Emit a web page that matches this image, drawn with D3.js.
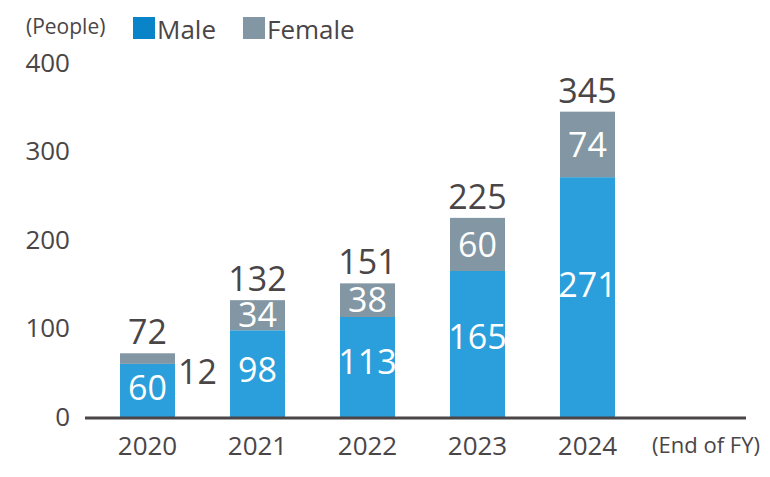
<!DOCTYPE html>
<html>
<head>
<meta charset="utf-8">
<script src="https://cdn.jsdelivr.net/npm/d3@7"></script>
<style>
  body { margin: 0; background: #fff; }
  text { font-family: "Open Sans", sans-serif; fill: #4a4546; }
</style>
</head>
<body>
<div id="plot"></div>
<script>
const years = ["2020", "2021", "2022", "2023", "2024"];
const male = [60, 98, 113, 165, 271];
const female = [12, 34, 38, 60, 74];
const totals = [72, 132, 151, 225, 345];
const yTicks = [0, 100, 200, 300, 400];

const colors = {male: "#2b9fdb", female: "#8296a3", maleKey: "#0a84c8", text: "#4a4546"};

const svg = d3.select("#plot")
  .append("svg")
  .attr("width", 770)
  .attr("height", 477);

const x = d3.scaleBand()
  .domain(years)
  .range([92.5, 642.5])
  .paddingInner(0.5)
  .paddingOuter(0.25);

const y = d3.scaleLinear()
  .domain([0, 400])
  .range([417, 63]);

const data = years.map((yr, i) => ({year: yr, male: male[i], female: female[i], total: totals[i]}));

// y axis labels only
const yAxisG = svg.append("g")
  .attr("transform", "translate(70,0)")
  .call(d3.axisLeft(y).tickValues(yTicks).tickSize(0).tickPadding(0));
yAxisG.select(".domain").remove();
yAxisG.selectAll("text")
  .style("font-size", "26px")
  .style("font-family", "'Open Sans', sans-serif")
  .attr("fill", colors.text);

// bars
const groups = svg.selectAll(".bar-group")
  .data(data)
  .enter()
  .append("g")
  .attr("class", "bar-group")
  .attr("transform", d => `translate(${x(d.year)},0)`);

groups.append("rect")
  .attr("width", x.bandwidth())
  .attr("y", d => y(d.male))
  .attr("height", d => y(0) - y(d.male))
  .attr("fill", colors.male);

groups.append("rect")
  .attr("width", x.bandwidth())
  .attr("y", d => y(d.male + d.female))
  .attr("height", d => y(d.male) - y(d.male + d.female))
  .attr("fill", colors.female);

// male labels
groups.append("text")
  .attr("x", x.bandwidth() / 2)
  .attr("y", d => y(d.male * 0.55))
  .attr("dy", "0.36em")
  .attr("text-anchor", "middle")
  .style("font-size", "34px")
  .style("fill", "#fff")
  .text(d => d.male);

// female labels (2020 sits outside, to the right)
groups.append("text")
  .attr("x", (d, i) => i === 0 ? x.bandwidth() + 3 : x.bandwidth() / 2)
  .attr("y", (d, i) => i === 0 ? y(d.male) + 8 : y(d.male + d.female / 2))
  .attr("dy", "0.36em")
  .attr("text-anchor", (d, i) => i === 0 ? "start" : "middle")
  .style("font-size", "34px")
  .style("fill", (d, i) => i === 0 ? colors.text : "#fff")
  .text(d => d.female);

// totals
groups.append("text")
  .attr("x", x.bandwidth() / 2)
  .attr("y", d => y(d.total) - 9)
  .attr("text-anchor", "middle")
  .style("font-size", "34px")
  .text(d => d.total);

// baseline
svg.append("line")
  .attr("x1", 85)
  .attr("x2", 746)
  .attr("y1", y(0) + 1)
  .attr("y2", y(0) + 1)
  .attr("stroke", colors.text)
  .attr("stroke-width", 3);

// x axis labels
const xAxisG = svg.append("g")
  .attr("transform", `translate(0,${y(0)})`)
  .call(d3.axisBottom(x).tickSize(0).tickPadding(20));
xAxisG.select(".domain").remove();
xAxisG.selectAll("text")
  .style("font-size", "26px")
  .style("font-family", "'Open Sans', sans-serif")
  .attr("fill", colors.text);

svg.append("text")
  .attr("x", 706)
  .attr("y", 453)
  .attr("text-anchor", "middle")
  .style("font-size", "22px")
  .text("(End of FY)");

// unit + legend
svg.append("text")
  .attr("x", 26)
  .attr("y", 34)
  .style("font-size", "21px")
  .text("(People)");

const legend = [
  {label: "Male", color: colors.maleKey, x: 133},
  {label: "Female", color: colors.female, x: 243}
];
const lg = svg.selectAll(".legend")
  .data(legend)
  .enter()
  .append("g")
  .attr("class", "legend")
  .attr("transform", d => `translate(${d.x},17)`);
lg.append("rect")
  .attr("width", 22)
  .attr("height", 22)
  .attr("fill", d => d.color);
lg.append("text")
  .attr("x", 24)
  .attr("y", 22)
  .style("font-size", "26px")
  .text(d => d.label);
</script>
</body>
</html>
